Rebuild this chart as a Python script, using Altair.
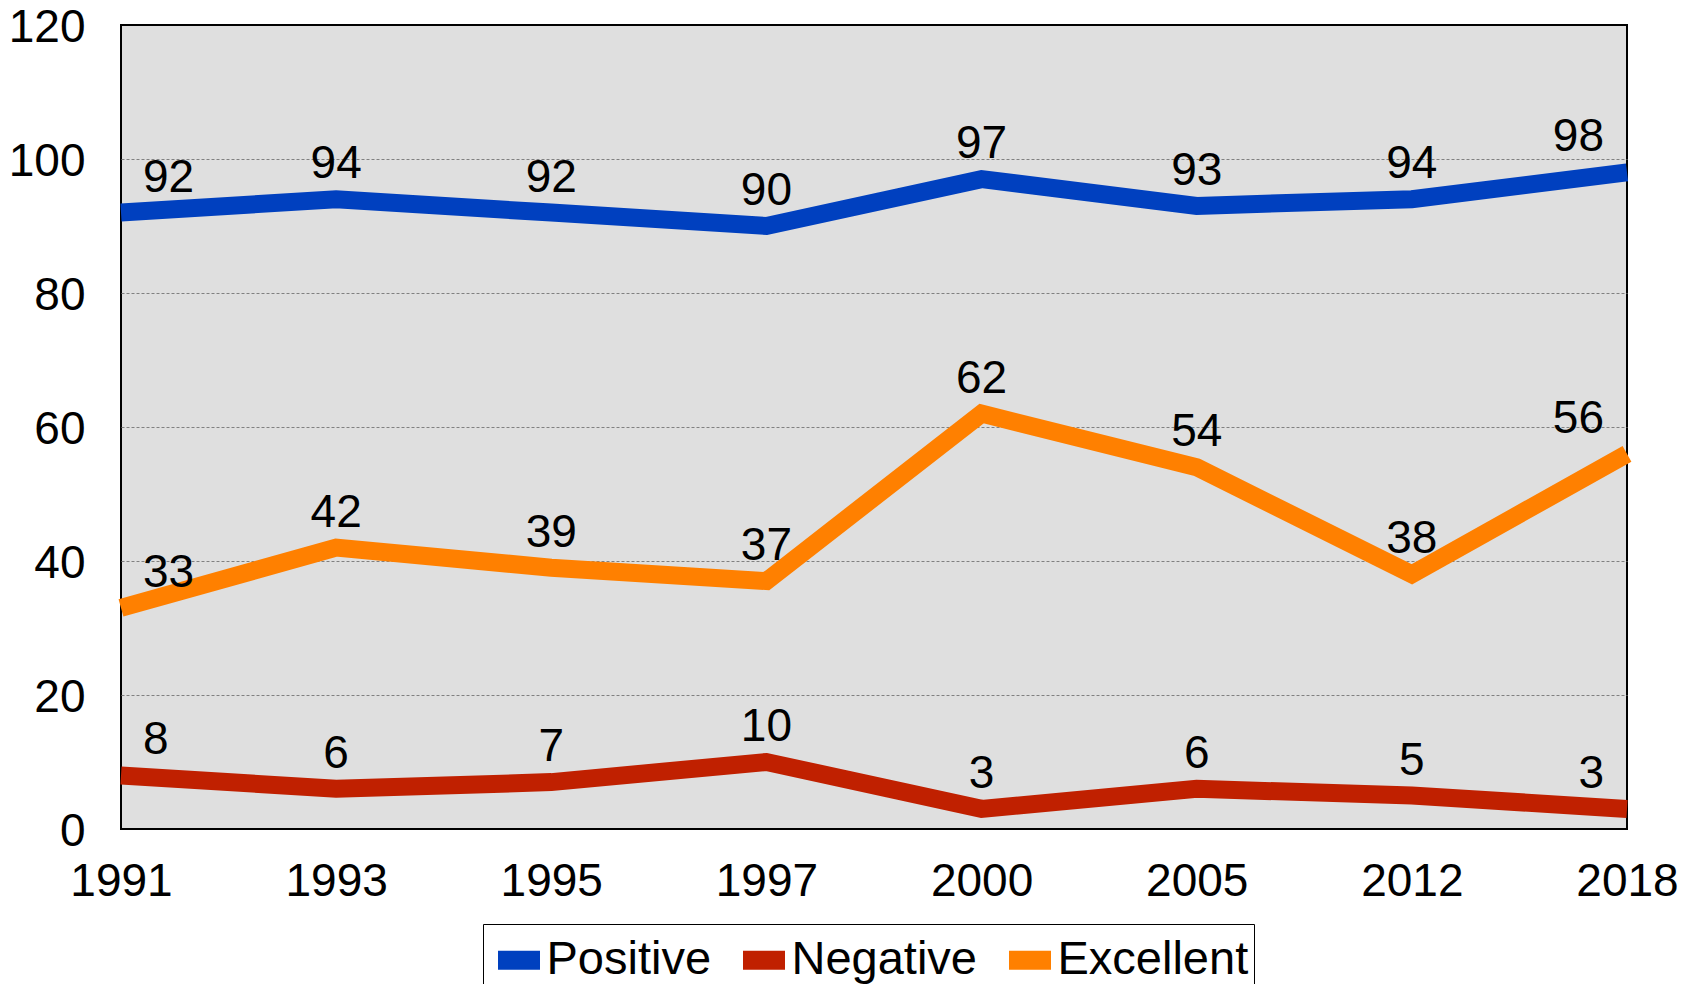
import altair as alt
import pandas as pd

years = ["1991", "1993", "1995", "1997", "2000", "2005", "2012", "2018"]
series = ["Positive", "Negative", "Excellent"]
positive = [92, 94, 92, 90, 97, 93, 94, 98]
negative = [8, 6, 7, 10, 3, 6, 5, 3]
excellent = [33, 42, 39, 37, 62, 54, 38, 56]
y_ticks = [0, 20, 40, 60, 80, 100, 120]
colors = ["#0040BF", "#C02000", "#FF8000"]

rows = []
for name, vals in zip(series, [positive, negative, excellent]):
    for yr, v in zip(years, vals):
        rows.append({"Year": yr, "Series": name, "Value": v})
df = pd.DataFrame(rows)

FONT = "Liberation Sans, Arial, sans-serif"

x = alt.X(
    "Year:O", sort=years,
    scale=alt.Scale(type="point", padding=0),
    axis=alt.Axis(title=None, labelAngle=0, labelFontSize=46, labelFont=FONT,
                  labelColor="black", labelPadding=30, ticks=False, domain=False,
                  grid=False),
)
y = alt.Y(
    "Value:Q",
    scale=alt.Scale(domain=[0, 120], nice=False),
    axis=alt.Axis(title=None, values=y_ticks, labelFontSize=46, labelFont=FONT,
                  labelColor="black", labelPadding=36, labelOffset=2, ticks=False,
                  domain=False, grid=True, gridDash=[3, 2], gridWidth=1,
                  gridColor={"condition": {"test": "datum.value == 0 || datum.value == 120",
                                           "value": "transparent"},
                             "value": "#808080"}),
)
color = alt.Color(
    "Series:N",
    scale=alt.Scale(domain=series, range=colors),
    legend=alt.Legend(
        title=None, orient="none", legendX=362, legendY=899, direction="horizontal",
        symbolType="stroke", symbolSize=1764, symbolStrokeWidth=19,
        labelFontSize=47, labelFont=FONT, labelColor="black",
        labelOffset={"expr": "-3"}, labelLimit=400,
        columnPadding={"expr": "-7"}, padding=5.5, strokeColor="black",
        symbolOpacity=1,
    ),
)

lines = alt.Chart(df).mark_line(strokeWidth=18).encode(x=x, y=y, color=color)

def labels(years_sel, **kw):
    return alt.Chart(df).mark_text(
        fontSize=46, font=FONT, color="black", baseline="alphabetic", dy=-21, **kw
    ).transform_filter(
        alt.FieldOneOfPredicate(field="Year", oneOf=years_sel)
    ).encode(x=x, y=y, text="Value:Q")

mid = labels(years[1:-1], align="center")
first = labels(years[:1], align="left", dx=22)
last = labels(years[-1:], align="right", dx=-23)

chart = alt.layer(lines, mid, first, last).properties(
    width=1506, height=804,
    autosize=alt.AutoSizeParams(type="none"),
    padding={"left": 113, "top": 17, "right": 66, "bottom": 155},
    background="white",
).configure_view(fill="#DFDFDF", stroke="black", strokeWidth=2)

chart.save("out.html", embed_options={"renderer": "svg", "actions": False})
